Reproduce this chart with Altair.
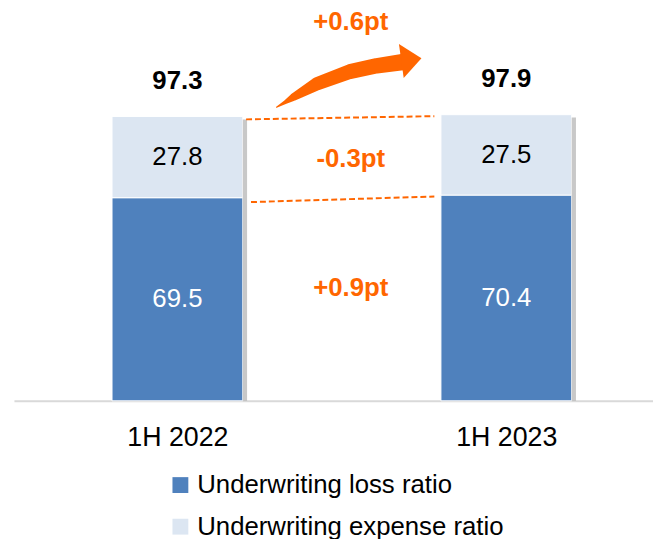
import altair as alt
import pandas as pd

# ---------------- data ----------------
periods = ["1H 2022", "1H 2023"]
loss_ratio = [69.5, 70.4]
expense_ratio = [27.8, 27.5]
combined_ratio = [97.3, 97.9]
series = ["Underwriting loss ratio", "Underwriting expense ratio"]
series_colors = ["#4F81BD", "#DCE6F2"]
label_colors = ["#FFFFFF", "#000000"]

# change annotations: label text computed from data, vertical anchor (ratio units)
change_y = [129.5, 82.7, 38.6]

# curved arrow (category-position units, ratio units, stroke width px)
arrow_x = [0.3012, 0.3283, 0.3554, 0.4247, 0.5241, 0.6054, 0.6837]
arrow_y = [100.44, 102.20, 104.07, 108.51, 112.64, 114.61, 115.86]
arrow_w = [0, 4, 8, 13.5, 15, 15.5, 16.5]
arrow_head = (0.7114, 116.75)

ORANGE = "#FF6600"
FONT = "Liberation Sans"
HW = 0.1988          # half bar width (position units)

# ---------------- tables ----------------
seg_rows = []
for i, p in enumerate(periods):
    lo = loss_ratio[i]
    ex = expense_ratio[i]
    for s, y0, y1, v, tc in [
        (series[0], 0, lo, lo, label_colors[0]),
        (series[1], lo, lo + ex, ex, label_colors[1]),
    ]:
        seg_rows.append(dict(pos=i, period=p, series=s, y0=y0, y1=y1,
                             ymid=(y0 + y1) / 2, val=f"{v:.1f}", tc=tc,
                             xl=i - HW, xr=i + HW))
segs = pd.DataFrame(seg_rows)

tot = pd.DataFrame(dict(pos=range(len(periods)), total=combined_ratio,
                        label=[f"{v:.1f}" for v in combined_ratio]))
tot["sx"] = tot["pos"] + HW
tot["sx2"] = tot["pos"] + HW + 0.013
tot["sy2"] = tot["total"] - 1.0

d_total = combined_ratio[1] - combined_ratio[0]
d_exp = expense_ratio[1] - expense_ratio[0]
d_loss = loss_ratio[1] - loss_ratio[0]
ann = pd.DataFrame(dict(x=[0.527] * 3, y=change_y,
                        label=[f"{d:+.1f}pt" for d in (d_total, d_exp, d_loss)]))

dash = pd.DataFrame(dict(
    x=[HW + 0.01, HW + 0.025],
    x2=[1 - HW - 0.02, 1 - HW - 0.02],
    y=[combined_ratio[0] - 1, loss_ratio[0] - 1.5],
    y2=[combined_ratio[1] - 0.5, loss_ratio[1] - 0.5],
))

arrow = pd.DataFrame(dict(i=range(len(arrow_x)), x=arrow_x, y=arrow_y, w=arrow_w))
head = pd.DataFrame(dict(x=[arrow_head[0]], y=[arrow_head[1]]))

# ---------------- scales ----------------
xs = alt.Scale(domain=[-0.497, 1.446], nice=False, zero=False)
ys = alt.Scale(domain=[0, 133.56], nice=False, zero=True)

label_expr = "[" + ",".join(f"'{p}'" for p in periods) + "][datum.value]"
x_axis = alt.Axis(values=list(range(len(periods))), labelExpr=label_expr,
                  title=None, ticks=False, grid=False, domain=True,
                  domainColor="#d9d9d9", domainWidth=2,
                  labelFontSize=27, labelColor="#000000", labelFont=FONT,
                  labelPadding=24, labelFlush=False)


def X(field):
    return alt.X(field, scale=xs, axis=x_axis, title=None)


def Y(field):
    return alt.Y(field, scale=ys, axis=None)


shadow = alt.Chart(tot).mark_rect(color="#9a9a9a", opacity=0.55).encode(
    x=X("sx:Q"), x2="sx2:Q", y=Y("sy2:Q"), y2=alt.datum(0),
)

bars = alt.Chart(segs).mark_rect(stroke="white", strokeWidth=1).encode(
    x=X("xl:Q"),
    x2="xr:Q",
    y=Y("y0:Q"),
    y2="y1:Q",
    color=alt.Color("series:N",
                    scale=alt.Scale(domain=series, range=series_colors),
                    legend=alt.Legend(orient="none", legendX=155, legendY=466,
                                      title=None, symbolType="square",
                                      symbolSize=256, symbolStrokeWidth=0,
                                      labelFontSize=26, labelFont=FONT,
                                      labelColor="#000000", labelOffset=4,
                                      labelLimit=0,
                                      rowPadding=16, padding=0)),
)

seg_text = alt.Chart(segs).mark_text(fontSize=26, font=FONT).encode(
    x=X("pos:Q"), y=Y("ymid:Q"), text="val:N",
    color=alt.Color("tc:N", scale=None),
)

tot_text = alt.Chart(tot).mark_text(fontSize=26, font=FONT, fontWeight="bold",
                                    color="#000000", dy=-36).encode(
    x=X("pos:Q"), y=Y("total:Q"), text="label:N",
)

dash_lines = alt.Chart(dash).mark_rule(color=ORANGE, strokeWidth=2,
                                       strokeDash=[6, 3]).encode(
    x=X("x:Q"), x2="x2:Q", y=Y("y:Q"), y2="y2:Q",
)

ann_text = alt.Chart(ann).mark_text(fontSize=26, font=FONT, fontWeight="bold",
                                    color=ORANGE).encode(
    x=X("x:Q"), y=Y("y:Q"), text="label:N",
)

arrow_body = alt.Chart(arrow).mark_trail(color=ORANGE).encode(
    x=X("x:Q"), y=Y("y:Q"),
    size=alt.Size("w:Q", scale=None),
    order="i:Q",
)

arrow_tip = alt.Chart(head).mark_point(
    shape="M -0.595 -1 L 0.595 0 L -0.595 1 Z", filled=True, size=1190,
    angle=352, color=ORANGE, opacity=1, strokeWidth=0).encode(
    x=X("x:Q"), y=Y("y:Q"),
)

chart = alt.layer(bars, shadow, seg_text, tot_text, dash_lines, ann_text,
                  arrow_body, arrow_tip).properties(
    width=645, height=394,
    autosize=alt.AutoSizeParams(type="none"),
    padding={"left": 6, "top": 0, "right": 0, "bottom": 143},
).configure(font=FONT, view=alt.ViewConfig(stroke=None))

chart.save("out.html", embed_options={"renderer": "svg", "actions": False})
